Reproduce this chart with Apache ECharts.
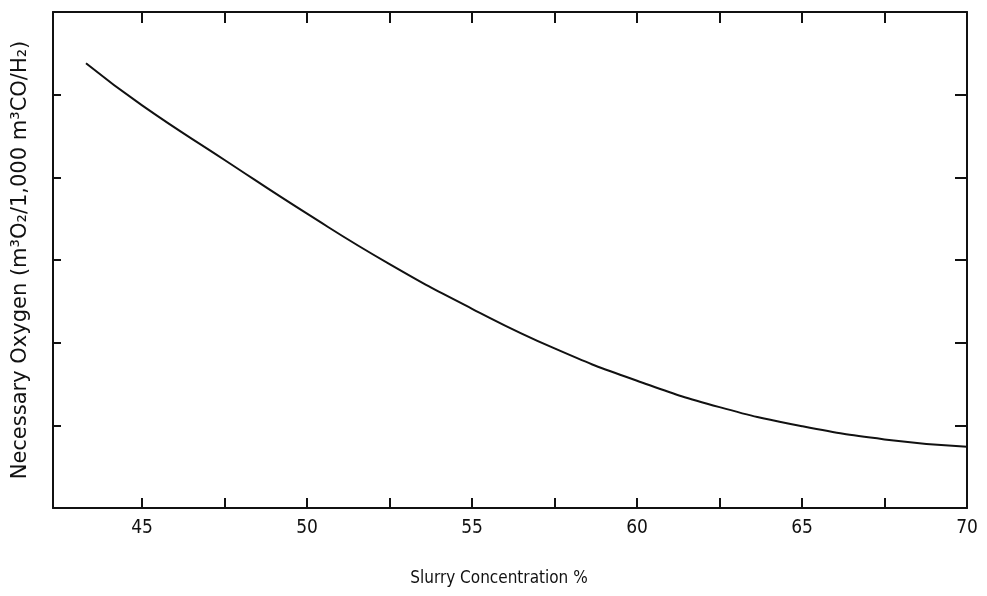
<!DOCTYPE html>
<html>
<head>
<meta charset="utf-8">
<script src="https://cdn.jsdelivr.net/npm/echarts@6/dist/echarts.min.js"></script>
<style>
  html, body { margin: 0; padding: 0; background: #fff; }
  #chart { width: 987px; height: 596px; }
</style>
</head>
<body>
<div id="chart"></div>
<script>
// slurry concentration (%) vs necessary oxygen
var slurry = [43.3, 45, 47.5, 50, 52.5, 55, 57.5, 60, 62.5, 65, 67.5, 70];
var oxygen = [5.38, 4.87, 4.21, 3.56, 2.95, 2.41, 1.93, 1.54, 1.22, 0.99, 0.83, 0.74];

var xTicks = [45, 47.5, 50, 52.5, 55, 57.5, 60, 62.5, 65, 67.5, 70];
var xLabels = [45, 50, 55, 60, 65, 70];
var yTicks = [1, 2, 3, 4, 5];

var font = "'DejaVu Sans Condensed', 'Liberation Sans', sans-serif";
var ink = '#111';

var points = slurry.map(function (x, i) { return [x, oxygen[i]]; });

var chart = echarts.init(document.getElementById('chart'));

// box axes: all four sides, ticks pointing inward
function boxAxis(pos, min, max, ticks, len) {
  return {
    type: 'value',
    position: pos,
    min: min,
    max: max,
    axisLine: { show: true, onZero: false, lineStyle: { color: ink, width: 2 } },
    axisTick: { show: true, inside: true, length: len, customValues: ticks, lineStyle: { color: ink, width: 2 } },
    axisLabel: { show: false },
    splitLine: { show: false }
  };
}

var xBottom = boxAxis('bottom', 42.3, 70, xTicks, 10);
xBottom.name = 'Slurry Concentration %';
xBottom.nameLocation = 'middle';
xBottom.nameGap = 62;
xBottom.nameTextStyle = { fontFamily: font, fontSize: 17, color: ink, padding: [0, 22, 0, 0] };
xBottom.axisLabel = { show: true, customValues: xLabels, margin: 11, fontFamily: font, fontSize: 19, color: ink };

var yLeft = boxAxis('left', 0, 6, yTicks, 8);
yLeft.name = 'Necessary Oxygen (m³O₂/1,000 m³CO/H₂)';
yLeft.nameLocation = 'middle';
yLeft.nameGap = 22;
yLeft.nameTextStyle = { fontFamily: "'DejaVu Sans', sans-serif", fontSize: 21, color: ink };

var option = {
  backgroundColor: '#fff',
  animation: false,
  grid: { left: 53, right: 20, top: 12, bottom: 88 },
  xAxis: [xBottom, boxAxis('top', 42.3, 70, xTicks, 11)],
  yAxis: [yLeft, boxAxis('right', 0, 6, yTicks, 12)],
  series: [
    {
      type: 'line',
      data: points,
      smooth: 0.5,
      showSymbol: false,
      lineStyle: { color: ink, width: 2 }
    }
  ]
};

chart.setOption(option);
</script>
</body>
</html>
